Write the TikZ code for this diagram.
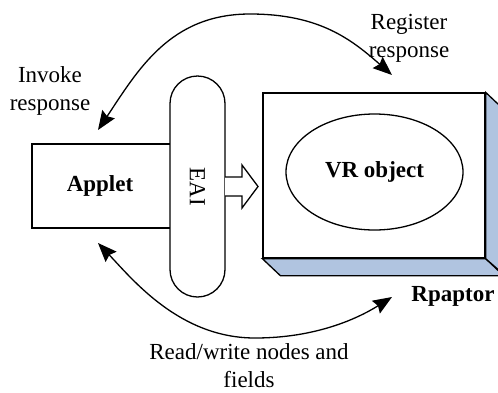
\documentclass[tikz,border=0pt]{standalone}
\usepackage{fontspec}
\setmainfont{Liberation Serif}
\usetikzlibrary{arrows.meta,shapes.geometric,calc}
\definecolor{slab}{RGB}{176,196,224}
\begin{document}
\begin{tikzpicture}[x=1pt,y=-1pt,line width=1.3pt,
  txt/.style={font=\fontsize{23}{28}\selectfont,align=center,inner sep=0pt},
  btxt/.style={font=\fontsize{23}{28}\selectfont\bfseries,inner sep=0pt},
  box/.style={draw,fill=white,inner sep=0pt},
  tip/.tip={Stealth[length=19pt,width=15pt,inset=2.5pt]},
  flow/.style={tip-tip,line width=1.3pt}]
\useasboundingbox (0,0) rectangle (498,392);

% Applet block, partly covered by the EAI capsule
\node[box,minimum width=140,minimum height=84] (applet) at (102,186) {};
\node[btxt] (appletlbl) at (100,186) {Applet};

% EAI capsule
\node[box,minimum width=55,minimum height=221,rounded corners=27.5pt] (eai) at (197.5,186.5) {};
\node[txt,rotate=-90] (eailbl) at (eai.center) {EAI};

% hollow arrow from EAI into the VR world
\draw[fill=white,line join=miter] (225,177) -- (242,177) -- (242,165) -- (258,186.5)
  -- (242,208) -- (242,196) -- (225,196);

% Rpaptor slab with its bevelled sides
\node[box,minimum width=222,minimum height=165] (rp) at (374,175.5) {};
\draw[fill=slab] (rp.south west) -- (rp.south east) -- ++(18,17)
  -- ($(rp.south west)+(18,17)$) -- cycle;
\draw[fill=slab] (rp.north east) -- ++(18,17) -- ++(0,165) -- (rp.south east) -- cycle;
\node[draw,ellipse,inner sep=0pt,minimum width=177,minimum height=116] (vr) at (374.5,172) {};
\node[btxt] (vrlbl) at (vr.center) {VR object};
\node[btxt] (rplbl) at (453,296) {Rpaptor};

% labels of the exchanges
\node[txt] (invoke) at (50,91) {Invoke\\response};
\node[txt] (register) at (409,38) {Register\\response};
\node[txt] (rw) at (249,366) {Read/write nodes and\\fields};

% curved double arrows
\coordinate (invtip) at (98,130);
\coordinate (regtip) at (392,75);
\coordinate (toparc) at (250,14);
\draw[flow] (invtip) .. controls (138,70) and (170,14) .. (toparc)
  .. controls (320,14) and (352,40) .. (regtip);

\coordinate (rwl) at (98,243);
\coordinate (rwr) at (392,297);
\coordinate (botarc) at (255,338);
\draw[flow] (rwl) .. controls (133,280) and (180,338) .. (botarc)
  .. controls (315,338) and (357,319) .. (rwr);
\end{tikzpicture}
\end{document}
